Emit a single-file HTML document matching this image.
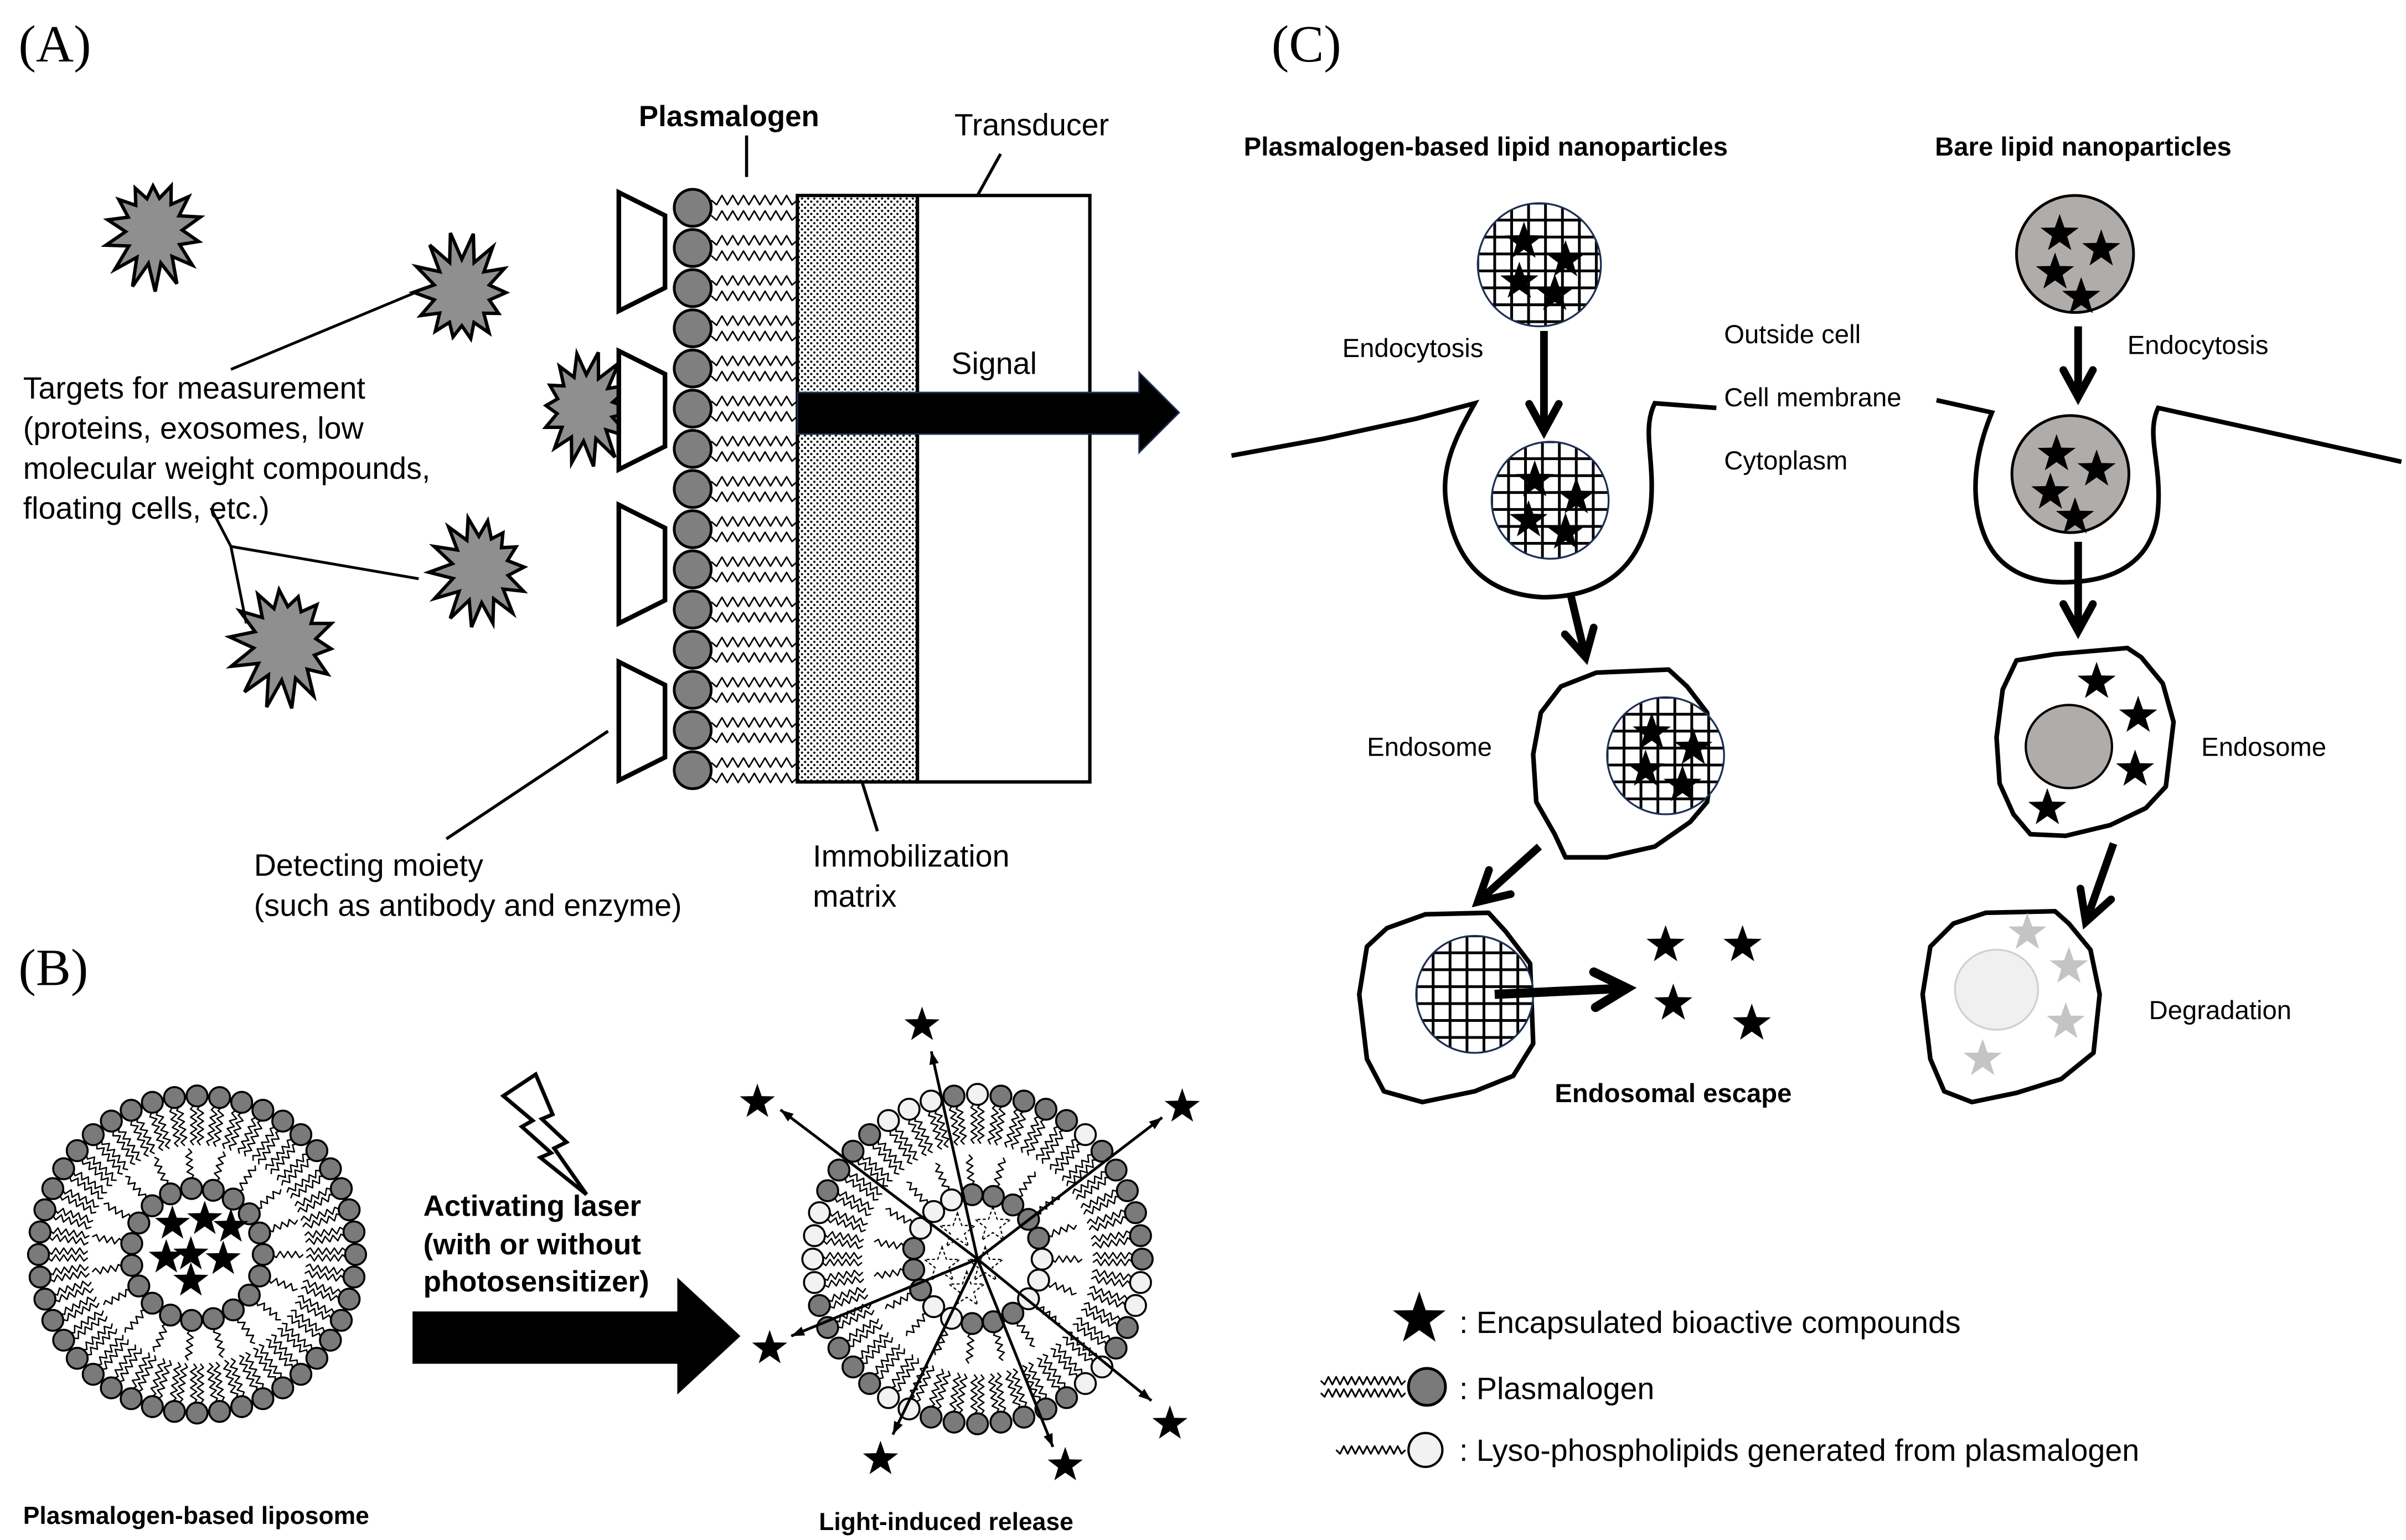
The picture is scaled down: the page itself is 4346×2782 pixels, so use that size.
<!DOCTYPE html>
<html><head><meta charset="utf-8">
<style>
html,body{margin:0;padding:0;background:#fff;}
svg{display:block;}
text{font-family:"Liberation Sans",sans-serif;fill:#000;}
.b{font-weight:bold;}
.s{font-family:"Liberation Serif",serif;}
</style></head>
<body>
<svg id="sv" xmlns="http://www.w3.org/2000/svg" width="4346" height="2782" viewBox="0 0 1563 1000.5" preserveAspectRatio="none">
<defs>
<pattern id="dots" width="4" height="4" patternUnits="userSpaceOnUse">
<circle cx="1" cy="1" r="0.75" fill="#000"/><circle cx="3" cy="3" r="0.75" fill="#000"/>
</pattern>
</defs>
<g id="g"></g>
<text class="s" x="12" y="40" font-size="34">(A)</text>
<text class="s" x="12" y="640" font-size="34">(B)</text>
<text class="s" x="826" y="40" font-size="34">(C)</text>
<text x="15" y="259" font-size="20">Targets for measurement</text>
<text x="15" y="285" font-size="20">(proteins, exosomes, low</text>
<text x="15" y="311" font-size="20">molecular weight compounds,</text>
<text x="15" y="337" font-size="20">floating cells, etc.)</text>
<text class="b" x="415" y="82" font-size="19">Plasmalogen</text>
<text x="620" y="88" font-size="20">Transducer</text>
<text x="618" y="243" font-size="20">Signal</text>
<text x="528" y="563" font-size="20">Immobilization</text>
<text x="528" y="589" font-size="20">matrix</text>
<text x="165" y="569" font-size="20">Detecting moiety</text>
<text x="165" y="595" font-size="20">(such as antibody and enzyme)</text>
<text class="b" x="275" y="790" font-size="19">Activating laser</text>
<text class="b" x="275" y="815" font-size="19">(with or without</text>
<text class="b" x="275" y="839" font-size="19">photosensitizer)</text>
<text class="b" x="15" y="990" font-size="16">Plasmalogen-based liposome</text>
<text class="b" x="532" y="994" font-size="16">Light-induced release</text>
<text class="b" x="808" y="101" font-size="17">Plasmalogen-based lipid nanoparticles</text>
<text class="b" x="1257" y="101" font-size="17">Bare lipid nanoparticles</text>
<text x="872" y="232" font-size="17">Endocytosis</text>
<text x="1382" y="230" font-size="17">Endocytosis</text>
<text x="1120" y="223" font-size="17">Outside cell</text>
<text x="1120" y="264" font-size="17">Cell membrane</text>
<text x="1120" y="305" font-size="17">Cytoplasm</text>
<text x="888" y="491" font-size="17">Endosome</text>
<text x="1430" y="491" font-size="17">Endosome</text>
<text x="1396" y="662" font-size="17">Degradation</text>
<text class="b" x="1010" y="716" font-size="17">Endosomal escape</text>
<text x="948" y="866" font-size="20">: Encapsulated bioactive compounds</text>
<text x="948" y="909" font-size="20">: Plasmalogen</text>
<text x="948" y="949" font-size="20">: Lyso-phospholipids generated from plasmalogen</text>
</svg>
<script>
var NS="http://www.w3.org/2000/svg",G=document.getElementById("g");
function el(t,a){var e=document.createElementNS(NS,t);for(var k in a)e.setAttribute(k,a[k]);G.appendChild(e);return e;}
function wave(x1,y1,x2,y2,amp,per,w){var dx=x2-x1,dy=y2-y1,L=Math.hypot(dx,dy),ux=dx/L,uy=dy/L,nx=-uy,ny=ux,n=Math.max(2,Math.round(L/(per/2))),p=[];
for(var i=0;i<=n;i++){var t=i/n*L,o=(i==0||i==n)?0:(i%2?amp:-amp);p.push((x1+ux*t+nx*o).toFixed(1)+","+(y1+uy*t+ny*o).toFixed(1));}
el("polyline",{points:p.join(" "),fill:"none",stroke:"#000","stroke-width":w||0.9,"stroke-linejoin":"round"});}
function star(cx,cy,R,fill,extra){var p=[];for(var i=0;i<10;i++){var r=i%2?R*0.4:R,a=-Math.PI/2+i*Math.PI/5;p.push((cx+r*Math.cos(a)).toFixed(1)+","+(cy+r*Math.sin(a)).toFixed(1));}
var o={points:p.join(" "),fill:fill||"#000"};if(extra)for(var k in extra)o[k]=extra[k];el("polygon",o);}
function burst(cx,cy,R,seed){var p=[],n=14;for(var i=0;i<n*2;i++){var a=i*Math.PI/n+seed;var r=i%2?R*0.6:R*(0.8+0.3*Math.abs(Math.sin(i*1.7+seed*3)));p.push((cx+r*Math.cos(a)*0.85).toFixed(1)+","+(cy+r*Math.sin(a)).toFixed(1));}
el("polygon",{points:p.join(" "),fill:"#8f8f8f",stroke:"#000","stroke-width":2.2});}
function line(x1,y1,x2,y2,w,c){el("line",{x1:x1,y1:y1,x2:x2,y2:y2,stroke:c||"#000","stroke-width":w||2});}
function chev(x1,y1,x2,y2,len,w){var a=Math.atan2(y2-y1,x2-x1);line(x1,y1,x2,y2,w);
var p=[[x2-len*Math.cos(a-0.5),y2-len*Math.sin(a-0.5)],[x2,y2],[x2-len*Math.cos(a+0.5),y2-len*Math.sin(a+0.5)]];
el("polyline",{points:p.map(function(q){return q[0].toFixed(1)+","+q[1].toFixed(1)}).join(" "),fill:"none",stroke:"#000","stroke-width":w,"stroke-linecap":"round","stroke-linejoin":"miter"});}
function arrowT(x1,y1,x2,y2){var a=Math.atan2(y2-y1,x2-x1);line(x1,y1,x2,y2,1.8);var l=9;
el("polygon",{points:[x2,y2,x2-l*Math.cos(a-0.35),y2-l*Math.sin(a-0.35),x2-l*Math.cos(a+0.35),y2-l*Math.sin(a+0.35)].join(" "),fill:"#000"});}
var uid=0;
function grid(cx,cy,r,sp){var id="c"+(uid++);var cp=el("clipPath",{id:id});var c=document.createElementNS(NS,"circle");c.setAttribute("cx",cx);c.setAttribute("cy",cy);c.setAttribute("r",r);cp.appendChild(c);
el("circle",{cx:cx,cy:cy,r:r,fill:"#fff"});var gg=document.createElementNS(NS,"g");gg.setAttribute("clip-path","url(#"+id+")");G.appendChild(gg);
for(var v=-r;v<=r;v+=sp){var l1=document.createElementNS(NS,"line");l1.setAttribute("x1",cx+v);l1.setAttribute("x2",cx+v);l1.setAttribute("y1",cy-r);l1.setAttribute("y2",cy+r);l1.setAttribute("stroke","#000");l1.setAttribute("stroke-width","1.8");gg.appendChild(l1);
var l2=document.createElementNS(NS,"line");l2.setAttribute("y1",cy+v);l2.setAttribute("y2",cy+v);l2.setAttribute("x1",cx-r);l2.setAttribute("x2",cx+r);l2.setAttribute("stroke","#000");l2.setAttribute("stroke-width","1.8");gg.appendChild(l2);}
el("circle",{cx:cx,cy:cy,r:r,fill:"none",stroke:"#1d2f52","stroke-width":1.2});}
function blob(pts){var s="M"+pts[0].join(",");for(var i=1;i<pts.length;i++)s+=" L"+pts[i].join(",");el("path",{d:s+"Z",fill:"#fff",stroke:"#000","stroke-width":3,"stroke-linejoin":"round"});}

/* Panel A */
burst(100,150,36,0.2);burst(300,190,36,0.9);burst(380,265,36,0.5);burst(312,370,36,1.3);burst(185,418,40,0.1);
line(150,240,270,190,1.8);line(150,355,272,376,1.8);line(137,330,150,355,1.8);line(150,355,160,405,1.8);
line(485,88,485,115,2);line(650,100,635,127,2);line(570,540,560,508,2);line(290,545,395,475,2);
el("rect",{x:518,y:127,width:78,height:381,fill:"url(#dots)",stroke:"#000","stroke-width":2.2});
el("rect",{x:596,y:127,width:112,height:381,fill:"#fff",stroke:"#000","stroke-width":2.2});
[125,228,328,430].forEach(function(y){el("polygon",{points:"402,"+y+" 432,"+(y+15)+" 432,"+(y+62)+" 402,"+(y+77),fill:"#fff",stroke:"#000","stroke-width":3});});
for(var i=0;i<15;i++){var y=135+26.1*i;wave(462,y-5,518,y-5,3,7,1);wave(462,y+5,518,y+5,3,7,1);
el("circle",{cx:450,cy:y,r:12,fill:"#7f7f7f",stroke:"#000","stroke-width":1.8});}
el("polygon",{points:"518,255 740,255 740,242 766,268 740,294 740,282 518,282",fill:"#000",stroke:"#1d2f52","stroke-width":1});

/* Panel B */
function lipo(cx,cy,Ro,Ri,no,ni,colf){
 for(var i=0;i<no;i++){var a=i*2*Math.PI/no,c=Math.cos(a),s=Math.sin(a);
  wave(cx+(Ro-6)*c-2.2*s,cy+(Ro-6)*s+2.2*c,cx+(Ro-32)*c-2.2*s,cy+(Ro-32)*s+2.2*c,2,5,0.9);
  wave(cx+(Ro-6)*c+2.2*s,cy+(Ro-6)*s-2.2*c,cx+(Ro-32)*c+2.2*s,cy+(Ro-32)*s-2.2*c,2,5,0.9);}
 for(var i=0;i<ni;i++){var a=i*2*Math.PI/ni,c=Math.cos(a),s=Math.sin(a);
  wave(cx+(Ri+6)*c,cy+(Ri+6)*s,cx+(Ri+26)*c,cy+(Ri+26)*s,2,5,0.9);}
 for(var i=0;i<no;i++){var a=i*2*Math.PI/no;el("circle",{cx:cx+Ro*Math.cos(a),cy:cy+Ro*Math.sin(a),r:6.8,fill:colf(i,0),stroke:"#000","stroke-width":1.3});}
 for(var i=0;i<ni;i++){var a=i*2*Math.PI/ni;el("circle",{cx:cx+Ri*Math.cos(a),cy:cy+Ri*Math.sin(a),r:6.8,fill:colf(i,1),stroke:"#000","stroke-width":1.3});}
}
lipo(128,815,103,43,44,19,function(){return "#7a7a7a";});
[[112,795],[133,792],[150,797],[145,818],[124,815],[108,817],[124,832]].forEach(function(p){star(p[0],p[1],12);});
el("polygon",{points:"327,712 348,698 359,724 352,727 368,742 360,746 381,776 351,752 358,749 339,732 346,728",fill:"#fff",stroke:"#000","stroke-width":2.5,"stroke-linejoin":"miter"});
el("polygon",{points:"268,852 440,852 440,830 481,868 440,906 440,886 268,886",fill:"#000"});
var wo=[1,2,5,6,14,15,21,22,23,24,29,30,31,33,38],wi=[0,1,2,6,7,11,12,13];
lipo(635,818,107,42,44,19,function(i,k){return (k?wi:wo).indexOf(i)>=0?"#f2f2f2":"#7a7a7a";});
[[622,800],[645,796],[612,822],[640,822],[628,838]].forEach(function(p){star(p[0],p[1],12,"#fff",{stroke:"#000","stroke-width":0.8,"stroke-dasharray":"2,1.5"});});
var st=[[599,666],[492,716],[768,719],[500,876],[760,925],[572,948],[692,952]],ah=[[605,683],[507,721],[755,726],[514,868],[748,910],[580,932],[684,940]];
for(var i=0;i<7;i++){arrowT(635,818,ah[i][0],ah[i][1]);star(st[i][0],st[i][1],12);}

/* Panel C */
grid(1000,172,40,11);[[990,157],[1017,169],[987,183],[1010,191]].forEach(function(p){star(p[0],p[1],13);});
el("circle",{cx:1348,cy:165,r:38,fill:"#b0acaa",stroke:"#000","stroke-width":1.8});
[[1338,152],[1365,162],[1335,177],[1352,193]].forEach(function(p){star(p[0],p[1],13);});
chev(1003,215,1003,280,20,5);chev(1350,212,1350,258,20,5);
el("path",{d:"M800,296 L860,285 L920,272 L958,262 C945,285 935,305 940,330 C946,365 965,386 1002,388 C1040,388 1065,370 1072,332 C1076,300 1066,280 1075,262 L1115,265",fill:"none",stroke:"#000","stroke-width":3});
el("path",{d:"M1258,260 L1294,268 C1284,292 1278,322 1290,350 C1300,372 1322,380 1348,378 C1380,376 1400,360 1402,330 C1404,300 1394,282 1402,265 L1470,280 L1560,300",fill:"none",stroke:"#000","stroke-width":3});
grid(1007,325,38,11);[[997,312],[1024,323],[993,338],[1017,346]].forEach(function(p){star(p[0],p[1],13);});
el("circle",{cx:1345,cy:308,r:38,fill:"#b0acaa",stroke:"#000","stroke-width":1.8});
[[1336,295],[1362,305],[1332,320],[1348,336]].forEach(function(p){star(p[0],p[1],13);});
chev(1020,385,1030,427,20,5);chev(1350,352,1350,410,20,5);
blob([[1014,446],[1037,437],[1084,435],[1096,446],[1109,463],[1112,500],[1109,521],[1098,534],[1075,550],[1044,557],[1017,557],[1010,542],[998,521],[996,490],[1001,463]]);
grid(1082,491,38,11);[[1073,476],[1100,486],[1069,500],[1093,510]].forEach(function(p){star(p[0],p[1],13);});
chev(1000,550,960,586,22,5);
blob([[901,603],[926,594],[967,593],[978,605],[994,626],[996,678],[983,699],[958,709],[924,716],[899,709],[888,688],[883,646],[888,615]]);
grid(958,646,38,11);
chev(971,646,1057,642,24,6);
[[1082,614],[1132,614],[1087,652],[1138,665]].forEach(function(p){star(p[0],p[1],13);});
blob([[1310,429],[1335,425],[1382,421],[1391,427],[1405,444],[1412,469],[1407,511],[1394,525],[1371,536],[1342,543],[1319,542],[1308,529],[1299,509],[1297,479],[1301,448]]);
el("ellipse",{cx:1344,cy:485,rx:28,ry:27,fill:"#b0acaa",stroke:"#000","stroke-width":1.5});
[[1362,443],[1389,465],[1387,500],[1330,525]].forEach(function(p){star(p[0],p[1],13);});
chev(1373,548,1355,599,22,5);
blob([[1269,600],[1290,593],[1335,592],[1344,600],[1358,617],[1364,646],[1360,684],[1339,701],[1310,710],[1281,716],[1263,709],[1254,688],[1249,646],[1254,615]]);
el("ellipse",{cx:1297,cy:643,rx:27,ry:26,fill:"#f0f0f0",stroke:"#d0d0d0","stroke-width":1.2});
[[1317,606],[1344,628],[1342,664],[1288,688]].forEach(function(p){star(p[0],p[1],13,"#c4c4c4");});
star(922,857,18);
wave(858,897,913,897,2.5,5,1.1);wave(858,905,913,905,2.5,5,1.1);
el("circle",{cx:927,cy:901,r:12,fill:"#7a7a7a",stroke:"#000","stroke-width":1.8});
wave(868,942,913,942,2.5,5,1.1);
el("circle",{cx:926,cy:942,r:11,fill:"#f2f2f2",stroke:"#000","stroke-width":1.5});
</script>
</body></html>
